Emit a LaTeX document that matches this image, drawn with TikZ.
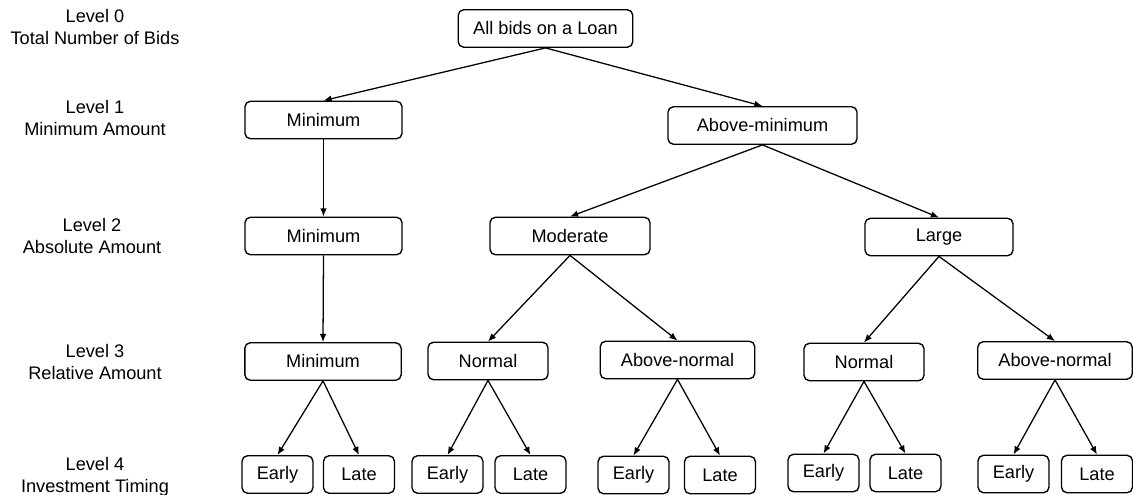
\documentclass[tikz,border=0pt]{standalone}
\usepackage{fontspec}
\setmainfont{Liberation Sans}
\usetikzlibrary{arrows.meta}

\begin{document}
\begin{tikzpicture}[
  x=0.55pt, y=-0.55pt,
  box/.style={draw, line width=0.75pt, rounded corners=3pt,
              minimum height=20.6pt, inner sep=2pt,
              align=center, font=\fontsize{10}{12}\selectfont},
  leaf/.style={box, minimum width=39pt},
  lvl/.style={align=center, font=\fontsize{10}{12}\selectfont},
  arrow/.style={-{Latex[length=4.5pt, width=3.6pt]}, line width=0.7pt},
]
\useasboundingbox (0,0) rectangle (1133,495);

% level labels
\node[lvl] (lv0) at (95,27)    {Level 0\\Total Number of Bids};
\node[lvl] (lv1) at (95,118)   {Level 1\\Minimum Amount};
\node[lvl] (lv2) at (92,236)   {Level 2\\Absolute Amount};
\node[lvl] (lv3) at (95,362)   {Level 3\\Relative Amount};
\node[lvl] (lv4) at (95,477)   {Level 4\\Investment Timing};

% tree
\node[box, minimum width=96pt]   (root) at (545.5,28.5) {All bids on a Loan};
\node[box, minimum width=86.4pt] (minA) at (323.5,120)  {Minimum};
\node[box, minimum width=104pt]  (abmin) at (762.5,125.5) {Above-minimum};
\node[box, minimum width=86.4pt] (minB) at (323.5,236)  {Minimum};
\node[box, minimum width=88pt]   (mod)  at (570,236)    {Moderate};
\node[box, minimum width=81.4pt] (large) at (939,237)   {Large};
\node[box, minimum width=86pt]   (minC) at (323,361.5)  {Minimum};
\node[box, minimum width=66pt]   (normA) at (488,361)   {Normal};
\node[box, minimum width=85pt]   (abnA) at (677.5,360)  {Above-normal};
\node[box, minimum width=66pt]   (normB) at (864,362)   {Normal};
\node[box, minimum width=85pt]   (abnB) at (1055,360.5) {Above-normal};

\node[leaf] (e1) at (277.5,474.5) {Early};
\node[leaf] (l1) at (359,474.5)   {Late};
\node[leaf] (e2) at (447.5,474.5) {Early};
\node[leaf] (l2) at (530.5,474.5) {Late};
\node[leaf] (e3) at (633.5,475)   {Early};
\node[leaf] (l3) at (720,475)     {Late};
\node[leaf] (e4) at (823.5,473)   {Early};
\node[leaf] (l4) at (905.5,473)   {Late};
\node[leaf] (e5) at (1013.5,474)  {Early};
\node[leaf] (l5) at (1097,474)    {Late};

\draw[arrow] (root.south) -- (minA.north);
\draw[arrow] (root.south) -- (abmin.north);
\draw[arrow] (minA.south) -- (minB.north);
\draw[arrow] (abmin.south) -- (mod.north);
\draw[arrow] (abmin.south) -- (large.north);
\draw[arrow] (minB.south) -- (minC.north);
\draw[arrow] (mod.south) -- (normA.north);
\draw[arrow] (mod.south) -- (abnA.north);
\draw[arrow] (large.south) -- (normB.north);
\draw[arrow] (large.south) -- (abnB.north);
\draw[arrow] (minC.south) -- (e1.north);
\draw[arrow] (minC.south) -- (l1.north);
\draw[arrow] (normA.south) -- (e2.north);
\draw[arrow] (normA.south) -- (l2.north);
\draw[arrow] (abnA.south) -- (e3.north);
\draw[arrow] (abnA.south) -- (l3.north);
\draw[arrow] (normB.south) -- (e4.north);
\draw[arrow] (normB.south) -- (l4.north);
\draw[arrow] (abnB.south) -- (e5.north);
\draw[arrow] (abnB.south) -- (l5.north);
\end{tikzpicture}
\end{document}
